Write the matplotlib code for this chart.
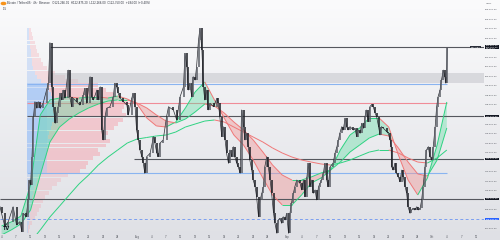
import numpy as np
import matplotlib
matplotlib.use("Agg")
import matplotlib.pyplot as plt
from matplotlib.collections import LineCollection
from matplotlib.colors import LinearSegmentedColormap
from matplotlib.patches import Rectangle, Circle

# ---- BTCUSDT 4h path: days after 1 Jul 2025, price in USDT ----
days = [2.7, 3.0, 3.7, 4.4, 5.4, 6.1, 6.8, 7.2, 7.5, 8.1, 8.5, 8.7, 9.0, 9.3, 9.6, 9.9,
        10.3, 10.6, 11.0, 11.6, 12.3, 12.7, 13.0, 13.4, 13.7, 14.1, 14.4, 14.7, 15.1, 15.4,
        15.8, 16.1, 16.8, 17.1, 17.5, 17.8, 18.5, 19.2, 19.9, 20.2, 20.6, 21.3, 21.6, 22.0,
        22.7, 23.0, 23.4, 23.7, 24.0, 24.4, 24.7, 25.4, 26.1, 26.4, 26.8, 27.1, 27.5, 28.2,
        28.9, 29.2, 29.9, 30.2, 30.6, 30.9, 31.3, 31.6, 32.0, 32.3, 32.6, 33.0, 33.7, 34.4,
        34.7, 35.1, 35.4, 35.7, 36.4, 37.1, 37.5, 38.5, 39.2, 39.9, 40.6, 40.9, 41.3, 41.6,
        41.9, 42.3, 42.6, 43.0, 43.3, 43.7, 44.0, 44.4, 44.7, 45.0, 45.4, 45.7, 46.1, 46.8,
        47.5, 47.8, 48.1, 48.5, 48.8, 49.2, 49.5, 49.9, 50.2, 50.6, 50.9, 51.2, 51.6, 51.9,
        52.3, 52.6, 53.0, 53.3, 53.6, 54.0, 54.3, 54.7, 55.0, 55.4, 55.7, 56.1, 56.4, 56.8,
        57.1, 57.4, 57.8, 58.1, 58.5, 58.8, 59.2, 59.5, 59.9, 60.2, 60.5, 60.9, 61.2, 61.6,
        61.9, 62.3, 62.6, 62.9, 63.3, 63.6, 64.0, 64.7, 65.0, 65.4, 65.7, 66.1, 66.4, 66.7,
        67.1, 67.4, 67.8, 68.1, 68.5, 68.8, 69.1, 69.5, 69.8, 70.2, 70.5, 70.9, 71.5, 71.9,
        72.3, 72.6, 72.9, 73.3, 73.6, 74.0, 74.3, 74.6, 75.0, 75.7, 76.0, 76.4, 76.7, 77.1,
        77.4, 77.8, 78.1, 78.4, 78.8, 79.1, 79.5, 79.8, 80.2, 80.5, 80.9, 81.2, 81.5, 81.9,
        82.6, 82.9, 83.3, 83.5, 83.6, 83.9, 84.3, 84.6, 85.0, 85.3, 85.7, 86.0, 86.4, 86.7,
        87.0, 87.4, 87.7, 88.1, 88.4, 88.8, 89.1, 89.5, 89.8, 90.1, 90.5, 90.8, 91.2, 91.5,
        91.9, 92.2, 92.6, 92.9, 93.2, 93.6, 93.9, 94.3, 94.6, 94.8, 95.0, 95.1]
prices = [109460, 108910, 107790, 108210, 109460, 107930, 108210, 107370, 108910, 108630,
          110030, 111700, 111280, 113660, 117020, 118270, 117720, 118270, 117720, 118140,
          119250, 119820, 123230, 119530, 117850, 116460, 117300, 117850, 118980, 118420,
          119250, 118560, 120930, 118690, 117850, 118560, 118270, 117990, 118830, 119400,
          118140, 120370, 118690, 118420, 119250, 118420, 119530, 115900, 115060, 117020,
          117720, 117850, 118690, 119820, 119530, 118980, 118560, 118270, 117990, 117160,
          118560, 118980, 117850, 115900, 115060, 114220, 113660, 113100, 112270, 113660,
          113940, 115340, 114780, 113940, 113660, 114780, 115060, 117020, 117850, 117580,
          116740, 118690, 119530, 122330, 121210, 119250, 119820, 118690, 120370, 120090,
          121210, 123450, 124430, 122610, 119530, 118420, 119250, 117580, 118140, 117850,
          118560, 118140, 117020, 115340, 116180, 115060, 113940, 113100, 114220, 113660,
          114500, 113660, 113100, 112820, 112270, 117580, 116180, 115060, 115620, 114500,
          113380, 112540, 111700, 111140, 110300, 108620, 110030, 110590, 111140, 112820,
          113660, 112820, 111700, 110590, 108910, 108070, 107230, 108350, 108490, 108070,
          108620, 108350, 108910, 107230, 108910, 109750, 110590, 111140, 111700, 111420,
          110870, 111700, 110300, 111980, 113100, 111140, 111700, 110590, 110870, 110030,
          111140, 111420, 111700, 112270, 113100, 111700, 111140, 112820, 113100, 113940,
          114500, 115060, 115620, 116180, 115900, 116880, 116180, 115900, 116180, 115900,
          116040, 115340, 115900, 115620, 116460, 116040, 117020, 117580, 116600, 117850,
          118050, 117850, 117300, 117020, 116180, 115480, 116180, 116040, 115760, 115620,
          115060, 114500, 112820, 112540, 113100, 112270, 111980, 111560, 112540, 111980,
          111140, 110590, 109460, 108910, 109190, 109330, 109190, 109460, 109190, 109330,
          110030, 111140, 112820, 114220, 114500, 113660, 113380, 114500, 116180, 117850,
          118690, 119250, 120090, 120930, 120370, 119820, 121210, 122750]

# moving-average ribbon (fast / mid) and slow average, read every two days
ema_days = [3, 5, 7, 9, 11, 13, 15, 17, 19, 21, 23, 25, 27, 29, 31, 33, 35, 37, 39, 41, 43, 45,
            47, 49, 51, 53, 55, 57, 59, 61, 63, 65, 67, 69, 71, 73, 75, 77, 79, 81, 83, 85, 87,
            89, 91, 93, 95]
ema_fast = [107850, 108180, 108680, 111290, 117160, 118420, 118580, 118670, 118580, 118670,
            118670, 118580, 118750, 118500, 118080, 116910, 116240, 116150, 116570, 117750,
            119090, 119930, 118420, 116910, 115480, 114640, 113380, 111870, 110450, 109610,
            109610, 110450, 111450, 111870, 112540, 114220, 115480, 116070, 116910, 116910,
            116150, 113800, 111700, 110450, 111870, 114640, 118250]
ema_mid = [107090, 107510, 108010, 109190, 112120, 114890, 116150, 116820, 117330, 117750,
           118080, 118330, 118420, 118420, 118160, 117750, 117160, 116650, 116490, 116820,
           117410, 118080, 117910, 117330, 116570, 115900, 115060, 114050, 112960, 112120,
           111700, 111700, 111960, 112290, 112540, 113210, 114050, 114640, 115230, 115560,
           115400, 114390, 113210, 112210, 112040, 113380, 116070]
slow_days = ema_days[2:]
ema_slow = [105410, 106500, 107510, 108600, 109520, 110450, 111370, 112120, 112960, 113630,
            114220, 114810, 115140, 115270, 115400, 115480, 115730, 116150, 116400, 116650,
            116740, 116570, 116150, 115730, 115310, 114890, 114390, 113970, 113630, 113380,
            113210, 113050, 112960, 113130, 113380, 113720, 114050, 114220, 114220, 113970,
            113550, 113210, 113130, 113550, 114220]

# fixed-range volume profile (10 Jul -> now): rows of 360 USDT, up / down volume
vp_start, vp_end = 8.3, 95.1
vp_top, vp_row = 124500, 360
vp_up = [1.5, 2, 2, 3, 3, 4, 4, 5, 5, 6, 8, 10, 14, 20, 22, 24, 26, 28, 27, 26, 28, 27, 25, 24,
         22, 21, 23, 22, 20, 20, 18, 17, 16, 15, 11, 10, 9, 7, 6, 5, 5, 4, 4, 3, 3, 2, 1, 1]
vp_down = [2.5, 3, 4, 5, 6, 6, 8, 9, 11, 14, 20, 28, 36, 50, 56, 61, 66, 72, 69, 68, 70, 68, 65,
           62, 58, 54, 59, 56, 50, 52, 47, 43, 42, 37, 29, 24, 21, 18, 16, 13, 11, 10, 8, 7, 5,
           3, 2, 1]
vah, poc, val = 119760, 118160, 112290

# drawn levels
dark_levels = [122860, 117070, 113470, 110110]
dark_starts = [13.0, 8.3, 30.3, 2.7]
zone_lo, zone_hi, zone_start = 119840, 120680, 13.0
alert_level = 108430
last_price = 122750

price_ticks = list(range(107600, 126001, 800))
tick_days = [3, 6, 9, 12, 15, 18, 21, 24, 27, 31, 34, 37, 40, 43, 46, 49, 52, 55, 58, 62, 65,
             68, 71, 74, 77, 80, 83, 86, 89, 92, 95, 98, 101]
tick_labels = ["4", "7", "10", "13", "16", "19", "22", "25", "28", "Aug", "4", "7", "10", "13",
               "16", "19", "22", "25", "28", "Sep", "4", "7", "10", "13", "16", "19", "22",
               "25", "28", "Oct", "4", "7", "10"]

GREEN = "#2fd382"
RED = "#f07878"
DARK = "#55575e"

W, H = 500, 240
fig = plt.figure(figsize=(5, 2.4), dpi=100)

# background gradient
bg = fig.add_axes([0, 0, 1, 1])
bg.imshow(np.linspace(0, 1, 256).reshape(-1, 1), aspect="auto", extent=[0, 1, 0, 1],
          cmap=LinearSegmentedColormap.from_list("bg", ["#fbfbfc", "#dfe0e5"]))
bg.set_axis_off()

ax = fig.add_axes([0, 6 / H, 484 / W, 234 / H])
ax.patch.set_alpha(0)
x0, x1 = 13 / 4.84, (484 + 13) / 4.84
y_top = 126806
y_bot = y_top - 83.9 * 234
ax.set_xlim(x0, x1)
ax.set_ylim(y_bot, y_top)
for s in ax.spines.values():
    s.set_visible(False)

# volume profile
up = np.array(vp_up)
dn = np.array(vp_down)
levels = vp_top - vp_row * (np.arange(len(up)) + 0.5)
scale = 0.24 * (vp_end - vp_start) / (up + dn).max()
in_va = (levels <= vah) & (levels >= val)
for lv, u, d, va in zip(levels, up, dn, in_va):
    a = 1.0 if va else 0.6
    ax.barh(lv, u * scale, left=vp_start, height=vp_row * 0.92, color="#8fb8f5",
            alpha=0.55 * a, lw=0, zorder=1)
    ax.barh(lv, d * scale, left=vp_start + u * scale, height=vp_row * 0.92,
            color="#f4a3ad", alpha=0.5 * a, lw=0, zorder=1)
ax.add_patch(Rectangle((vp_start, val), 4.0, vah - val, color="#a9c9f7", alpha=0.45,
                       lw=0, zorder=1))

# zone + levels
ax.add_patch(Rectangle((zone_start, zone_lo), x1 - zone_start, zone_hi - zone_lo,
                       color="#c4c5cb", alpha=0.55, lw=0, zorder=1))
ax.hlines([vah, val], vp_start, vp_end, colors="#8ab4f0", lw=0.8, zorder=2)
ax.hlines(poc, vp_start, vp_end, colors="#f08c98", lw=0.8, zorder=2)
for lv, st in zip(dark_levels, dark_starts):
    ax.hlines(lv, st, x1, colors=DARK, lw=0.8, zorder=3)
ax.hlines(alert_level, x0, x1, colors="#7c9ff0", lw=0.7, linestyles=(0, (3, 2.5)), zorder=3)

# ribbon fill
ed = np.array(ema_days, float)
ef = np.array(ema_fast, float)
em = np.array(ema_mid, float)
ax.fill_between(ed, ef, em, where=ef >= em, interpolate=True, color="#4fdc9a", alpha=0.35,
                lw=0, zorder=2)
ax.fill_between(ed, ef, em, where=ef < em, interpolate=True, color="#f29a9a", alpha=0.45,
                lw=0, zorder=2)


def slope_line(xs, ys, lw):
    xs = np.asarray(xs, float)
    ys = np.asarray(ys, float)
    segs = np.stack([np.column_stack([xs[:-1], ys[:-1]]),
                     np.column_stack([xs[1:], ys[1:]])], axis=1)
    cols = [GREEN if b >= a else RED for a, b in zip(ys[:-1], ys[1:])]
    ax.add_collection(LineCollection(segs, colors=cols, linewidths=lw, zorder=4))


slope_line(ema_days, ema_fast, 0.7)
slope_line(ema_days, ema_mid, 0.7)
slope_line(slow_days, ema_slow, 0.7)

# candles
d = np.array(days)
p = np.array(prices, float)
rising = p[1:] >= p[:-1]
ax.plot(d, p, color="#2b2d33", lw=0.5, zorder=5)
ax.vlines(d[1:], np.minimum(p[:-1], p[1:]), np.maximum(p[:-1], p[1:]),
          colors=np.where(rising, "#5b5e66", "#1c1e24"), lw=1.1, zorder=5)

# price scale: hide labels that would sit under a price box
box_prices = dark_levels + [alert_level]
px_per_usd = 234 / (y_top - y_bot)
shown = [t for t in price_ticks
         if min(abs(t - b) for b in box_prices) * px_per_usd > 4.5]
ax.yaxis.tick_right()
ax.set_yticks(shown)
ax.set_yticklabels([f"{v:,.2f}" for v in shown])
ax.tick_params(axis="y", length=0, pad=0.8, labelsize=1.6, labelcolor="#50535b")
ax.set_xticks(tick_days)
ax.set_xticklabels(tick_labels)
ax.tick_params(axis="x", length=0, pad=0.8, labelsize=1.8, labelcolor="#50535b")


def axis_box(price, text, color):
    ax.text(1.003, (price - y_bot) / (y_top - y_bot), text, transform=ax.transAxes,
            fontsize=1.6, color="white", va="center", ha="left", linespacing=1.1,
            bbox=dict(boxstyle="square,pad=0.3", fc=color, ec="none"), zorder=10,
            clip_on=False)


for lv in dark_levels[1:]:
    axis_box(lv, f"{lv:,.2f}", "#131722")
axis_box(alert_level, f"{alert_level:,.2f}", "#2962ff")
axis_box(dark_levels[0], f"{dark_levels[0]:,.2f}\n{last_price:,.2f}\n01:24:36", "#131722")
ax.text(100.9, dark_levels[0], "877,257", fontsize=1.7, color="white", ha="center",
        va="center", bbox=dict(boxstyle="square,pad=0.3", fc="#2a2e39", ec="none"), zorder=10)

fig.text(486 / W, 1 - 3 / H, "USDT", fontsize=1.6, color="#50535b", va="center")
fig.patches.append(Circle((3.5 / W, 1 - 3.5 / H), 2.2 / W, color="#f7931a",
                          transform=fig.transFigure, figure=fig))
fig.text(7 / W, 1 - 3.5 / H,
         "Bitcoin / TetherUS · 4h · Binance   O122,266.01  H122,875.20  L122,266.00  "
         "C122,750.00  +484.00 (+0.40%)", fontsize=1.9, color="#2a2e39", va="center")
fig.text(3 / W, 1 - 9 / H, "1.5", fontsize=1.9, color="#2a2e39", va="center")
fig.text(3 / W, 1 - 229 / H, "TV", fontsize=3.6, color="#131722", va="center",
         fontweight="bold")

fig.savefig("out.png", dpi=100)
